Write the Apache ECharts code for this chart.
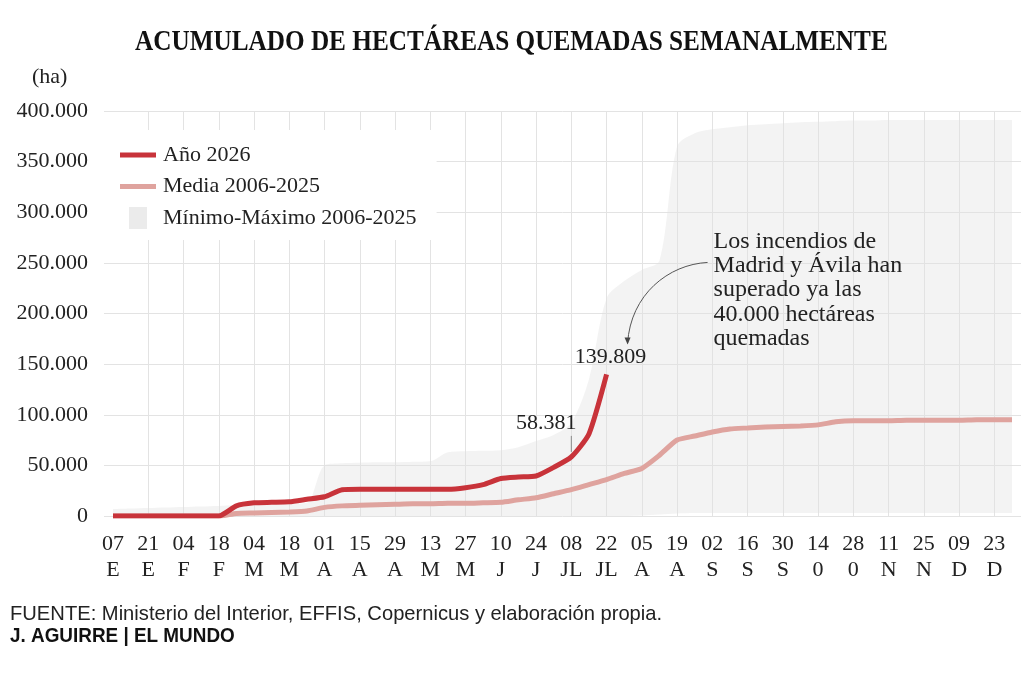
<!DOCTYPE html>
<html lang="es">
<head>
<meta charset="UTF-8">
<title>Acumulado de hectáreas quemadas semanalmente</title>
<script src="https://cdn.jsdelivr.net/npm/echarts@6/dist/echarts.min.js"></script>
<style>
    html, body { margin: 0; padding: 0; background: #fff; }
    #chart { width: 1024px; height: 685px; }
</style>
</head>
<body>
<div id="chart"></div>
<script>
// semanas de 2026 (dia + mes abreviado)
var dias = ['07','14','21','28','04','11','18','25','04','11','18','25','01','08','15','22','29',
            '06','13','20','27','03','10','17','24','01','08','15','22','29','05','12','19','26',
            '02','09','16','23','30','07','14','21','28','04','11','18','25','02','09','16','23','30'];
var meses = ['E','E','E','E','F','F','F','F','M','M','M','M','A','A','A','A','A',
             'M','M','M','M','J','J','J','J','JL','JL','JL','JL','JL','A','A','A','A',
             'S','S','S','S','S','0','0','0','0','N','N','N','N','D','D','D','D','D'];

// hectareas acumuladas
var ano2026 = [0, 0, 0, 0, 0, 0, 0, 10000, 13000, 13500, 14000, 16500, 19000, 26000, 26500,
               26500, 26500, 26500, 26500, 26500, 28000, 31000, 37000, 38500, 39500, 48000,
               58381, 81000, 139809];
var media = [0, 0, 0, 0, 0, 0, 0, 2500, 3000, 3500, 4000, 5000, 8500, 10000, 10500, 11000,
             11500, 12000, 12000, 12500, 12500, 13000, 13500, 16000, 18000, 22000, 26000,
             31000, 36000, 42000, 47000, 60000, 75000, 79000, 83000, 86000, 87000, 88000,
             88500, 89000, 90000, 93000, 94000, 94000, 94000, 94500, 94500, 94500, 94500,
             95000, 95000, 95000];
var minimo = [0, 0, 0, 0, 0, 0, 0, 0, 0, 0, 0, 0, 0, 0, 0, 0, 0, 0, 0, 0, 0, 0, 0, 0, 0, 0,
              0, 0, 0, 0, 500, 1500, 2500, 3000, 3000, 3000, 3000, 3000, 3000, 3000, 3000,
              3000, 3000, 3000, 3000, 3000, 3000, 3000, 3000, 3000, 3000, 3000];
var maximo = [7000, 7500, 8000, 8500, 9000, 9500, 10000, 10500, 11000, 11500, 12000, 13000,
              50000, 52000, 52500, 53000, 53000, 53500, 54000, 63000, 64000, 64500, 65000,
              68000, 74000, 80000, 92000, 135000, 215000, 232000, 243000, 252000, 365000,
              378000, 382000, 384000, 386000, 387000, 388000, 389000, 389500, 390000,
              390500, 390500, 391000, 391000, 391000, 391000, 391000, 391000, 391000, 391000];

var serif = '"Liberation Serif", serif';
var rojo = '#c8333a';
var rosa = '#dfa39e';

function fmt(v) {
    return String(v).replace(/\B(?=(\d{3})+(?!\d))/g, '.');
}

var semanas = dias.map(function (d, i) { return d + '\n' + meses[i]; });
var banda = maximo.map(function (v, i) { return v - minimo[i]; });

var chart = echarts.init(document.getElementById('chart'));

var option = {
    animation: false,
    textStyle: { fontFamily: serif, color: '#222' },
    grid: [
        { left: 104, right: 3, top: 111, bottom: 169 },
        { left: 113, right: 12, top: 111, bottom: 169 }
    ],
    legend: {
        orient: 'vertical',
        left: 100,
        top: 130,
        itemWidth: 36,
        itemHeight: 22,
        itemGap: 9.5,
        padding: [14, 20, 11, 20],
        backgroundColor: '#fff',
        selectedMode: false,
        textStyle: { fontFamily: serif, fontSize: 22, color: '#222', padding: [0, 0, 0, 2] },
        data: [
            { name: 'Año 2026', icon: 'path://M0,0H36V5H0Z' },
            { name: 'Media 2006-2025', icon: 'path://M0,0H36V5H0Z' },
            { name: 'Mínimo-Máximo 2006-2025', icon: 'path://M0,0H18V22H0Z' }
        ]
    },
    xAxis: [
        { gridIndex: 0, type: 'value', min: 0, max: 1, show: false },
        {
            gridIndex: 1,
            type: 'category',
            boundaryGap: false,
            data: semanas,
            axisLine: { show: false },
            axisTick: { show: false },
            axisLabel: {
                interval: 1,
                margin: 15,
                fontFamily: serif,
                fontSize: 22,
                lineHeight: 26,
                color: '#222'
            },
            splitLine: {
                show: true,
                interval: function (i) { return i > 0 && i % 2 === 0; },
                lineStyle: { color: '#e3e3e3', width: 1 }
            }
        }
    ],
    yAxis: [
        {
            gridIndex: 0,
            type: 'value',
            min: 0,
            max: 400000,
            interval: 50000,
            axisLine: { show: false },
            axisTick: { show: false },
            axisLabel: { margin: 16, fontFamily: serif, fontSize: 22, color: '#222', formatter: fmt },
            splitLine: { lineStyle: { color: '#e3e3e3', width: 1 } }
        },
        { gridIndex: 1, type: 'value', min: 0, max: 400000, interval: 50000, show: false }
    ],
    series: [
        {
            name: 'min',
            type: 'line',
            xAxisIndex: 1,
            yAxisIndex: 1,
            stack: 'banda',
            data: minimo,
            symbol: 'none',
            smooth: 0.3,
            silent: true,
            lineStyle: { opacity: 0 }
        },
        {
            name: 'Mínimo-Máximo 2006-2025',
            type: 'line',
            xAxisIndex: 1,
            yAxisIndex: 1,
            stack: 'banda',
            data: banda,
            symbol: 'none',
            smooth: 0.3,
            silent: true,
            lineStyle: { opacity: 0 },
            itemStyle: { color: '#ebebeb' },
            areaStyle: { color: 'rgba(225,225,225,0.55)' }
        },
        {
            name: 'Media 2006-2025',
            type: 'line',
            xAxisIndex: 1,
            yAxisIndex: 1,
            data: media,
            symbol: 'none',
            smooth: 0.2,
            lineStyle: { color: rosa, width: 5 },
            itemStyle: { color: rosa }
        },
        {
            name: 'Año 2026',
            type: 'line',
            xAxisIndex: 1,
            yAxisIndex: 1,
            data: ano2026,
            symbol: 'none',
            smooth: 0.2,
            lineStyle: { color: rojo, width: 5 },
            itemStyle: { color: rojo }
        }
    ]
};

chart.setOption(option);

// anotaciones ancladas a los puntos de datos
var p26 = chart.convertToPixel({ xAxisIndex: 1, yAxisIndex: 1 }, [26, ano2026[26]]);
var p28 = chart.convertToPixel({ xAxisIndex: 1, yAxisIndex: 1 }, [28, ano2026[28]]);
var tipX = p28[0] + 21, tipY = p28[1] - 31;

chart.setOption({
    graphic: [
        {
            type: 'text', z: 100, x: 135, y: 43, scaleX: 0.87,
            style: {
                text: 'ACUMULADO DE HECTÁREAS QUEMADAS SEMANALMENTE',
                font: 'bold 29px "Liberation Serif"',
                fill: '#111', verticalAlign: 'middle', align: 'left'
            }
        },
        {
            type: 'text', z: 100, x: 32, y: 77,
            style: { text: '(ha)', font: '22px "Liberation Serif"', fill: '#222', verticalAlign: 'middle' }
        },
        {
            type: 'text', z: 100, x: p26[0] - 25, y: p26[1] - 34,
            style: {
                text: fmt(ano2026[26]), font: '22px "Liberation Serif"', fill: '#222',
                align: 'center', verticalAlign: 'middle'
            }
        },
        {
            type: 'line', z: 100,
            shape: { x1: p26[0], y1: p26[1] - 21, x2: p26[0], y2: p26[1] - 5 },
            style: { stroke: '#888', lineWidth: 1 }
        },
        {
            type: 'text', z: 100, x: p28[0] + 4, y: p28[1] - 17,
            style: {
                text: fmt(ano2026[28]), font: '22px "Liberation Serif"', fill: '#222',
                align: 'center', verticalAlign: 'middle'
            }
        },
        {
            type: 'text', z: 100, x: p28[0] + 107, y: p28[1] - 145,
            style: {
                text: 'Los incendios de\nMadrid y Ávila han\nsuperado ya las\n40.000 hectáreas\nquemadas',
                font: '24px "Liberation Serif"', lineHeight: 24.3,
                fill: '#222', verticalAlign: 'top', align: 'left'
            }
        },
        {
            type: 'bezierCurve', z: 100,
            shape: {
                x1: p28[0] + 101, y1: p28[1] - 112,
                cpx1: p28[0] + 62, cpy1: p28[1] - 110,
                cpx2: p28[0] + 24, cpy2: p28[1] - 80,
                x2: tipX, y2: tipY
            },
            style: { stroke: '#555', lineWidth: 1, fill: null }
        },
        {
            type: 'polygon', z: 100,
            shape: { points: [[tipX - 3, tipY - 6], [tipX + 3, tipY - 6], [tipX, tipY + 1]] },
            style: { fill: '#444' }
        },
        {
            type: 'text', z: 100, x: 10, y: 614, scaleX: 0.96,
            style: {
                text: 'FUENTE: Ministerio del Interior, EFFIS, Copernicus y elaboración propia.',
                font: '21px "Liberation Sans"', fill: '#222', verticalAlign: 'middle'
            }
        },
        {
            type: 'text', z: 100, x: 10, y: 636, scaleX: 0.9,
            style: {
                text: 'J. AGUIRRE | EL MUNDO',
                font: 'bold 21px "Liberation Sans"', fill: '#111', verticalAlign: 'middle'
            }
        }
    ]
});
</script>
</body>
</html>
